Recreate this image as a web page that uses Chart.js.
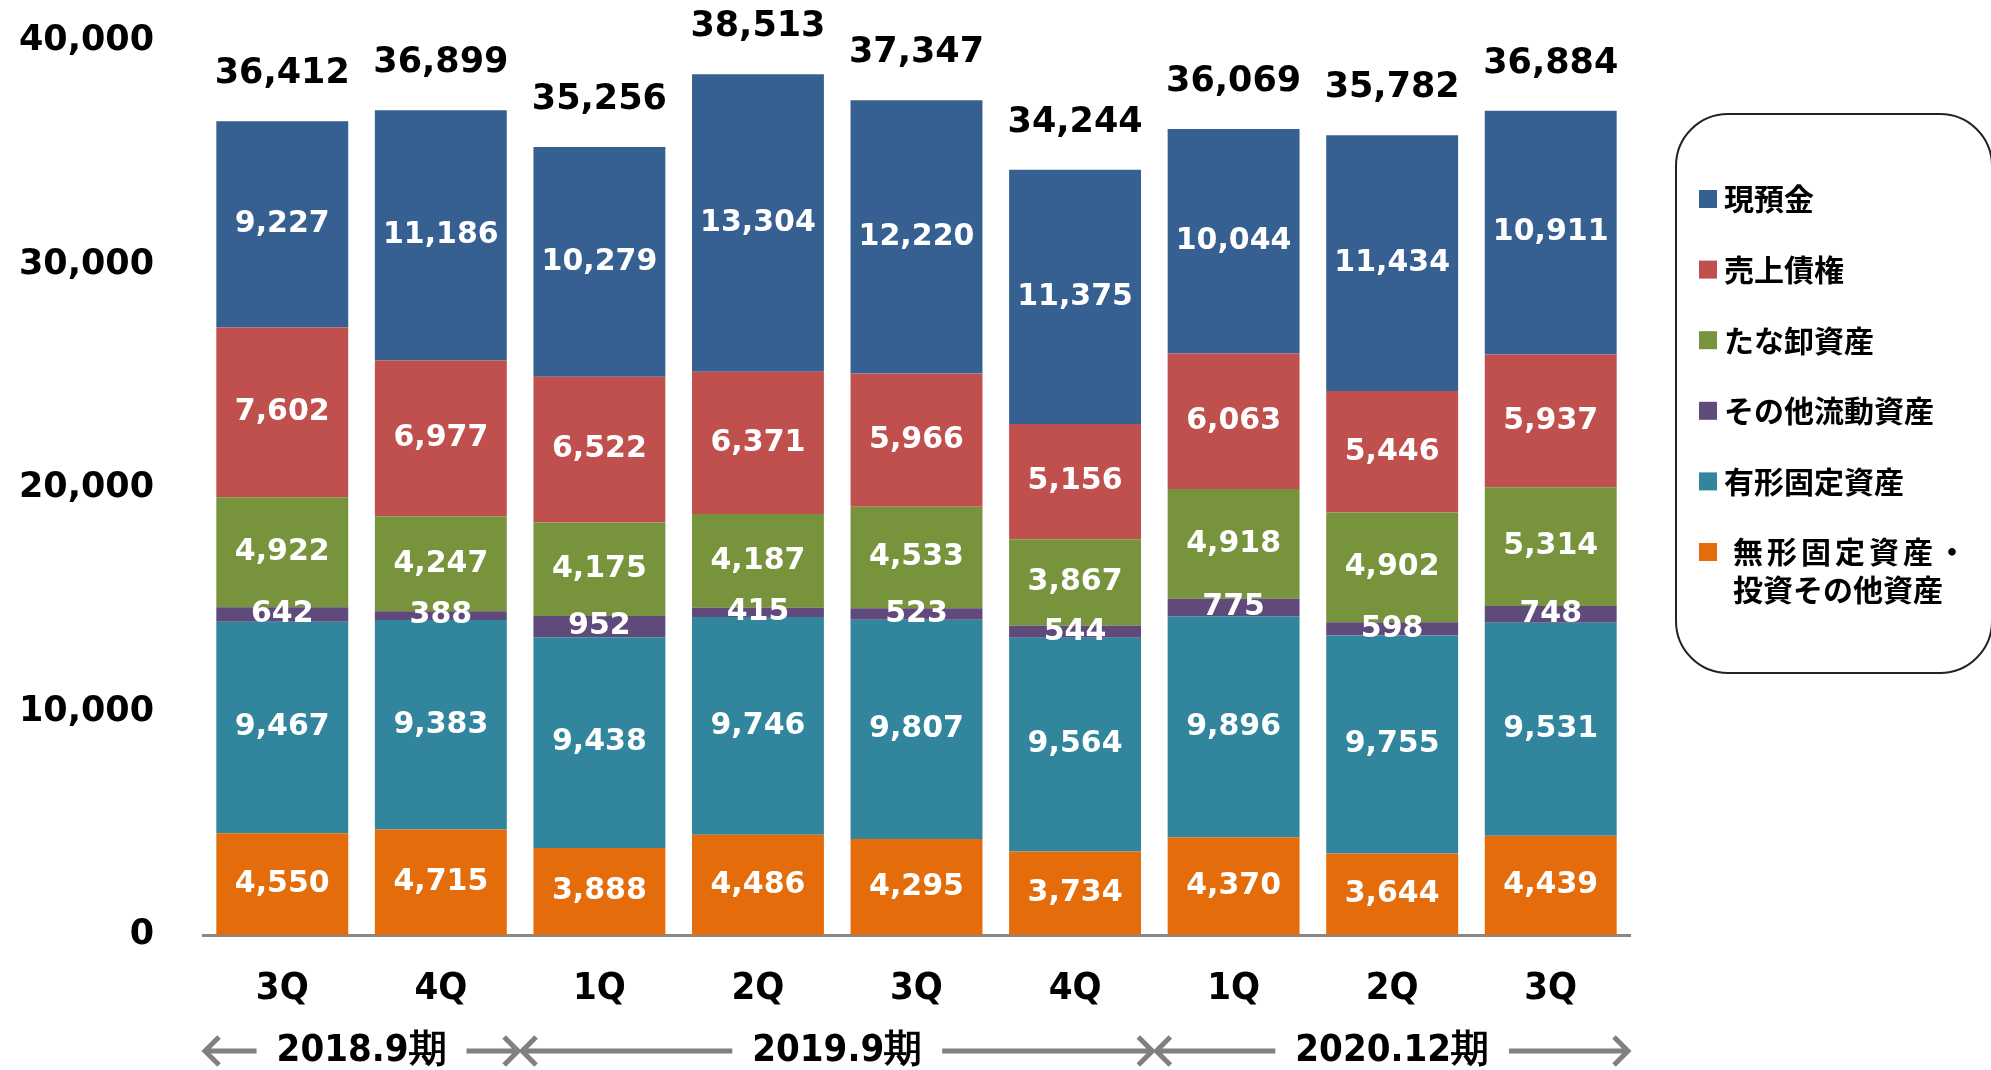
<!DOCTYPE html>
<html lang="ja">
<head>
<meta charset="utf-8">
<script src="https://cdn.jsdelivr.net/npm/chart.js@4.4.1/dist/chart.umd.min.js"></script>
<style>
  html, body { margin: 0; padding: 0; background: #fff; }
  #wrap { width: 1991px; height: 1070px; position: relative; }
</style>
</head>
<body>
<div id="wrap"><canvas id="chart"></canvas></div>
<script>
// quarters along the x axis
const quarters = ['3Q', '4Q', '1Q', '2Q', '3Q', '4Q', '1Q', '2Q', '3Q'];
// fiscal periods under the quarters and how many quarters each one covers
const periods = ['2018.9期', '2019.9期', '2020.12期'];
const periodSpans = [2, 4, 3];

// series, bottom of the stack first
const intangible = [4550, 4715, 3888, 4486, 4295, 3734, 4370, 3644, 4439];
const tangible   = [9467, 9383, 9438, 9746, 9807, 9564, 9896, 9755, 9531];
const otherCur   = [642, 388, 952, 415, 523, 544, 775, 598, 748];
const inventory  = [4922, 4247, 4175, 4187, 4533, 3867, 4918, 4902, 5314];
const receivable = [7602, 6977, 6522, 6371, 5966, 5156, 6063, 5446, 5937];
const cash       = [9227, 11186, 10279, 13304, 12220, 11375, 10044, 11434, 10911];
const totals     = [36412, 36899, 35256, 38513, 37347, 34244, 36069, 35782, 36884];

const yTicks = [0, 10000, 20000, 30000, 40000];

const fmt = v => v.toLocaleString('en-US');
const numFont = '"DejaVu Sans", Verdana, sans-serif';
const narrowFont = '"DejaVu Sans Condensed", "Liberation Sans Narrow", sans-serif';
const jpFont = '"Noto Sans CJK JP", sans-serif';

// white value in the middle of every segment, black total above every bar
const valueLabels = {
    id: 'valueLabels',
    afterDatasetsDraw(chart) {
        const ctx = chart.ctx;
        ctx.save();
        ctx.textAlign = 'center';
        ctx.textBaseline = 'middle';
        ctx.font = 'bold 30px ' + numFont;
        ctx.fillStyle = '#fff';
        chart.data.datasets.forEach((ds, i) => {
            chart.getDatasetMeta(i).data.forEach((bar, j) => {
                ctx.fillText(fmt(ds.data[j]), bar.x, (bar.y + bar.base) / 2);
            });
        });
        ctx.fillStyle = '#000';
        ctx.font = 'bold 35px ' + numFont;
        const meta = chart.getDatasetMeta(0);
        meta.data.forEach((bar, j) => {
            ctx.fillText(fmt(totals[j]), bar.x, chart.scales.y.getPixelForValue(totals[j]) - 47);
        });
        ctx.restore();
    }
};

// period names with arrows below the quarter labels
const periodRow = {
    id: 'periodRow',
    afterDraw(chart) {
        const ctx = chart.ctx;
        const xs = chart.scales.x;
        const w = xs.width / quarters.length;
        const y = chart.chartArea.bottom + 116;
        ctx.save();
        ctx.font = 'bold 38px ' + narrowFont;
        ctx.textAlign = 'center';
        ctx.textBaseline = 'middle';
        ctx.strokeStyle = '#808080';
        ctx.lineWidth = 5;
        let start = 0;
        periods.forEach((p, k) => {
            const x0 = xs.left + start * w;
            const x1 = xs.left + (start + periodSpans[k]) * w;
            const cx = (x0 + x1) / 2;
            const tw = ctx.measureText(p).width;
            ctx.fillStyle = '#000';
            ctx.fillText(p, cx, y);
            ctx.beginPath();
            ctx.moveTo(x0 + 2, y); ctx.lineTo(cx - tw / 2 - 20, y);
            ctx.moveTo(x0 + 16, y - 14); ctx.lineTo(x0 + 2, y); ctx.lineTo(x0 + 16, y + 14);
            ctx.moveTo(cx + tw / 2 + 20, y); ctx.lineTo(x1 - 2, y);
            ctx.moveTo(x1 - 16, y - 14); ctx.lineTo(x1 - 2, y); ctx.lineTo(x1 - 16, y + 14);
            ctx.stroke();
            start += periodSpans[k];
        });
        ctx.restore();
    }
};

// rounded legend box on the right, top of the stack listed first
const boxLegend = {
    id: 'boxLegend',
    afterDraw(chart) {
        const ctx = chart.ctx;
        ctx.save();
        ctx.strokeStyle = '#222';
        ctx.lineWidth = 2;
        ctx.beginPath();
        ctx.roundRect(1676, 114, 316, 559, 52);
        ctx.stroke();
        ctx.font = 'bold 30px ' + jpFont;
        ctx.textBaseline = 'middle';
        ctx.textAlign = 'left';
        const items = chart.data.datasets.slice().reverse();
        items.forEach((ds, i) => {
            const y = 199 + i * 70.6;
            ctx.fillStyle = ds.backgroundColor;
            ctx.fillRect(1699, y - 9, 18, 18);
            ctx.fillStyle = '#000';
            if (Array.isArray(ds.label)) {
                ctx.letterSpacing = '4px';
                ctx.fillText(ds.label[0], 1733, y);
                ctx.letterSpacing = '0px';
                ctx.fillText(ds.label[1], 1733, y + 38);
            } else {
                ctx.fillText(ds.label, 1724, y);
            }
        });
        ctx.restore();
    }
};

new Chart(document.getElementById('chart'), {
    type: 'bar',
    data: {
        labels: quarters,
        datasets: [
            { label: ['無形固定資産・', '投資その他資産'], data: intangible, backgroundColor: '#E46C0A' },
            { label: '有形固定資産', data: tangible, backgroundColor: '#31859C' },
            { label: 'その他流動資産', data: otherCur, backgroundColor: '#604A7B' },
            { label: 'たな卸資産', data: inventory, backgroundColor: '#77933C' },
            { label: '売上債権', data: receivable, backgroundColor: '#C0504D' },
            { label: '現預金', data: cash, backgroundColor: '#376092' }
        ]
    },
    options: {
        responsive: true,
        maintainAspectRatio: false,
        animation: false,
        layout: { padding: { top: 41, right: 361, bottom: 0, left: 0 } },
        datasets: { bar: { categoryPercentage: 1, barPercentage: 0.832, borderWidth: 0 } },
        plugins: { legend: { display: false }, tooltip: { enabled: false } },
        scales: {
            x: {
                stacked: true,
                grid: { display: false, drawTicks: false },
                border: { display: true, color: '#888', width: 3 },
                ticks: { color: '#000', padding: 31, font: { family: narrowFont, size: 38, weight: 'bold' } },
                afterFit(scale) { scale.height = 135; }
            },
            y: {
                stacked: true,
                min: 0,
                max: 40000,
                grid: { display: false, drawTicks: false },
                border: { display: false },
                afterBuildTicks(scale) { scale.ticks = yTicks.map(v => ({ value: v })); },
                ticks: { color: '#000', padding: 49, font: { family: numFont, size: 35, weight: 'bold' }, callback: v => fmt(v) },
                afterFit(scale) {
                    scale.width = 203;
                    scale.paddingTop = 0;
                    scale.paddingBottom = 0;
                }
            }
        }
    },
    plugins: [valueLabels, periodRow, boxLegend]
});
</script>
</body>
</html>
